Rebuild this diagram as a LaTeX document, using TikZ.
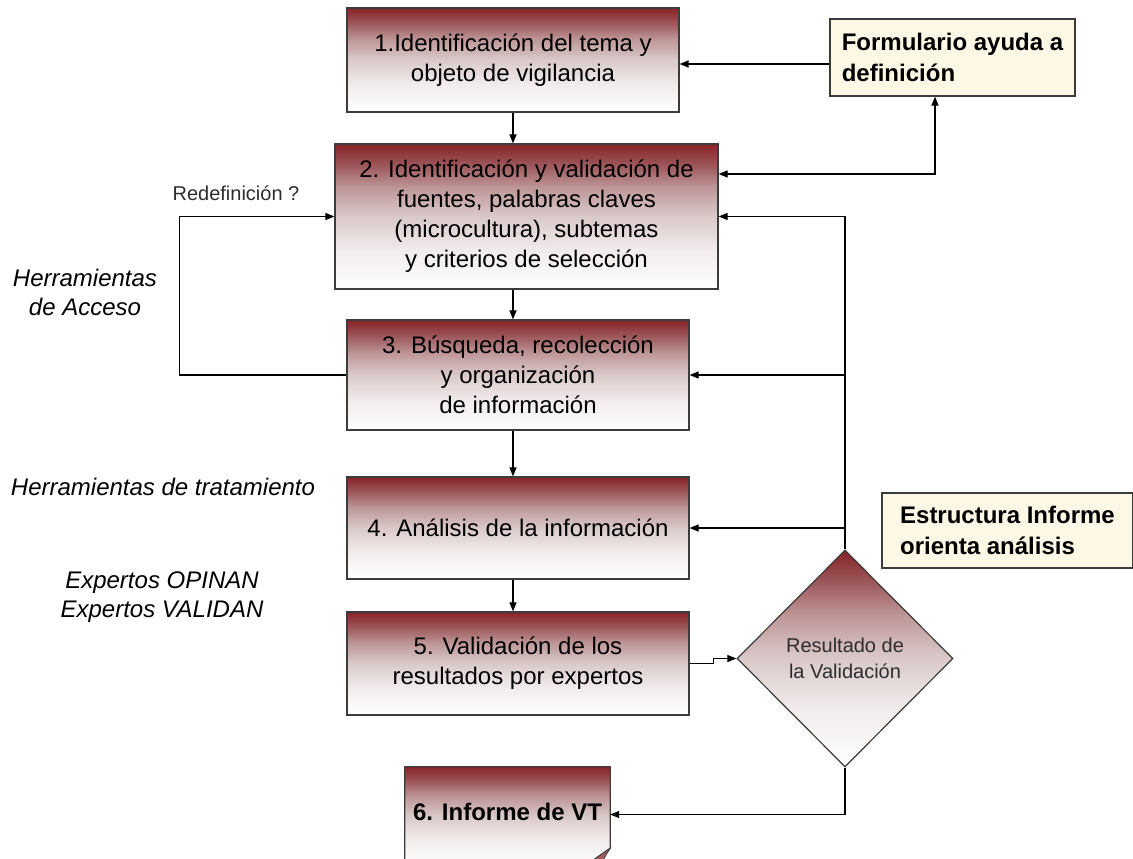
\documentclass[tikz,border=0pt]{standalone}
\usepackage{fontspec}
\setmainfont{Liberation Sans}
\usetikzlibrary{arrows.meta,shapes.geometric,calc}
\definecolor{dred}{RGB}{135,35,40}
\definecolor{sc0}{RGB}{155,85,88}
\definecolor{sc1}{RGB}{190,150,151}
\definecolor{sc2}{RGB}{218,202,202}
\definecolor{sc3}{RGB}{242,236,236}
\definecolor{cream}{RGB}{253,247,230}
\definecolor{bord}{RGB}{60,60,60}
\definecolor{txtg}{RGB}{45,45,45}
\definecolor{foldc}{RGB}{170,90,92}
\pgfdeclareverticalshading{boxsh}{100bp}{color(0bp)=(white); color(25bp)=(white); color(38bp)=(sc3); color(50bp)=(sc2); color(60bp)=(sc1); color(68bp)=(sc0); color(75bp)=(dred); color(100bp)=(dred)}
\begin{document}
\begin{tikzpicture}[x=1pt,y=-1pt,
  box/.style={draw=bord,line width=1.2pt,shade,shading=boxsh,
    inner sep=0pt,align=center,font=\fontsize{24}{30}\selectfont,text=black},
  note/.style={draw=bord,line width=1.2pt,fill=cream,inner sep=0pt,align=left,
    font=\fontsize{24}{31}\selectfont\bfseries,text=black},
  dia/.style={diamond,draw=bord,line width=1.2pt,shade,shading=boxsh,
    inner sep=0pt,align=center,font=\fontsize{20}{26}\selectfont,text=txtg},
  ilab/.style={align=center,font=\fontsize{24}{29}\selectfont\itshape,text=black,inner sep=0pt},
  glab/.style={font=\fontsize{20}{24}\selectfont,text=txtg,inner sep=0pt},
  arr/.style={-{Triangle[length=9pt,width=7pt]},line width=1.1pt,black},
  arrb/.style={{Triangle[length=9pt,width=7pt]}-{Triangle[length=9pt,width=7pt]},line width=1.1pt,black},
  ln/.style={line width=1.1pt,black}]
\useasboundingbox (0,0) rectangle (1133,859);

% main boxes
\node[box,minimum width=332pt,minimum height=104pt] (b1) at (513,60)
  {1.Identificación del tema y\\objeto de vigilancia};
\node[box,minimum width=383pt,minimum height=145pt] (b2) at (526.5,216.5)
  {2. Identificación y validación de\\fuentes, palabras claves\\(microcultura), subtemas\\y criterios de selección};
\node[box,minimum width=342pt,minimum height=110pt] (b3) at (518,375)
  {3. Búsqueda, recolección\\y organización\\de información};
\node[box,minimum width=342pt,minimum height=102pt] (b4) at (518,528)
  {4. Análisis de la información};
\node[box,minimum width=342pt,minimum height=103pt] (b5) at (518,663.5)
  {5. Validación de los\\resultados por expertos};

% notes
\node[note,minimum width=245pt,minimum height=77pt] (form) at (952.5,57.5)
  {Formulario ayuda a\\definición};
\node[note,minimum width=251pt,minimum height=75pt] (estr) at (1007.5,530.5)
  {Estructura Informe\\orienta análisis};

% decision
\node[dia,minimum width=216pt,minimum height=217pt] (dec) at (845,658.5)
  {Resultado de\\la Validación};

% document shape 6
\node[minimum width=205pt,minimum height=95pt,inner sep=0pt] (b6) at (507.5,814.5) {};
\path[draw=bord,line width=1.2pt,shade,shading=boxsh]
  (b6.south west) -- (b6.north west) -- (b6.north east) -- ($(b6.south east)+(0,-14)$)
  -- ($(b6.south east)+(-17,-2)$) -- ($(b6.south east)+(-17,4)$) -- ($(b6.south west)+(0,4)$) -- cycle;
\path[fill=foldc,draw=bord,line width=0.8pt]
  ($(b6.south east)+(0,-14)$) -- ($(b6.south east)+(-17,-2)$) -- ($(b6.south east)+(-11,4)$) -- cycle;
\node[font=\fontsize{24}{30}\selectfont\bfseries,inner sep=0pt] (b6t) at ($(b6.center)+(0,-2.5)$) {6. Informe de VT};

% labels
\node[glab] (redef) at (236,193) {Redefinición ?};
\node[ilab] (hacc) at (85,292.5) {Herramientas\\de Acceso};
\node[ilab] (htrat) at (163,487) {Herramientas de tratamiento};
\node[ilab] (expv) at (162,597.5) {Expertos OPINAN\\Expertos VALIDAN};

% vertical flow
\draw[arr] (b1.south) -- (b1.south |- b2.north);
\draw[arr] (b1.south |- b2.south) -- (b1.south |- b3.north);
\draw[arr] (b1.south |- b3.south) -- (b1.south |- b4.north);
\draw[arr] (b1.south |- b4.south) -- (b1.south |- b5.north);

% formulario connections
\draw[arr] ([yshift=-6.5pt]form.west) -- ([yshift=-6.5pt]form.west -| b1.east);
\draw[arrb] ([yshift=42.5pt]b2.east) -| ([xshift=-17.5pt]form.south);

% feedback from decision
\draw[arr] (dec.north) |- (b2.east);
\draw[arr] (dec.north |- b3.east) -- (b3.east);
\draw[arr] (dec.north |- b4.east) -- (b4.east);

% 5 -> decision
\draw[arr] (b5.east) -- ++(24,0) |- (dec.west);

% decision -> 6
\draw[arr] (dec.south) |- (b6.east);

% redefinition loop
\draw[arr] (b3.west) -- ++(-167,0) |- (b2.west);
\end{tikzpicture}
\end{document}
